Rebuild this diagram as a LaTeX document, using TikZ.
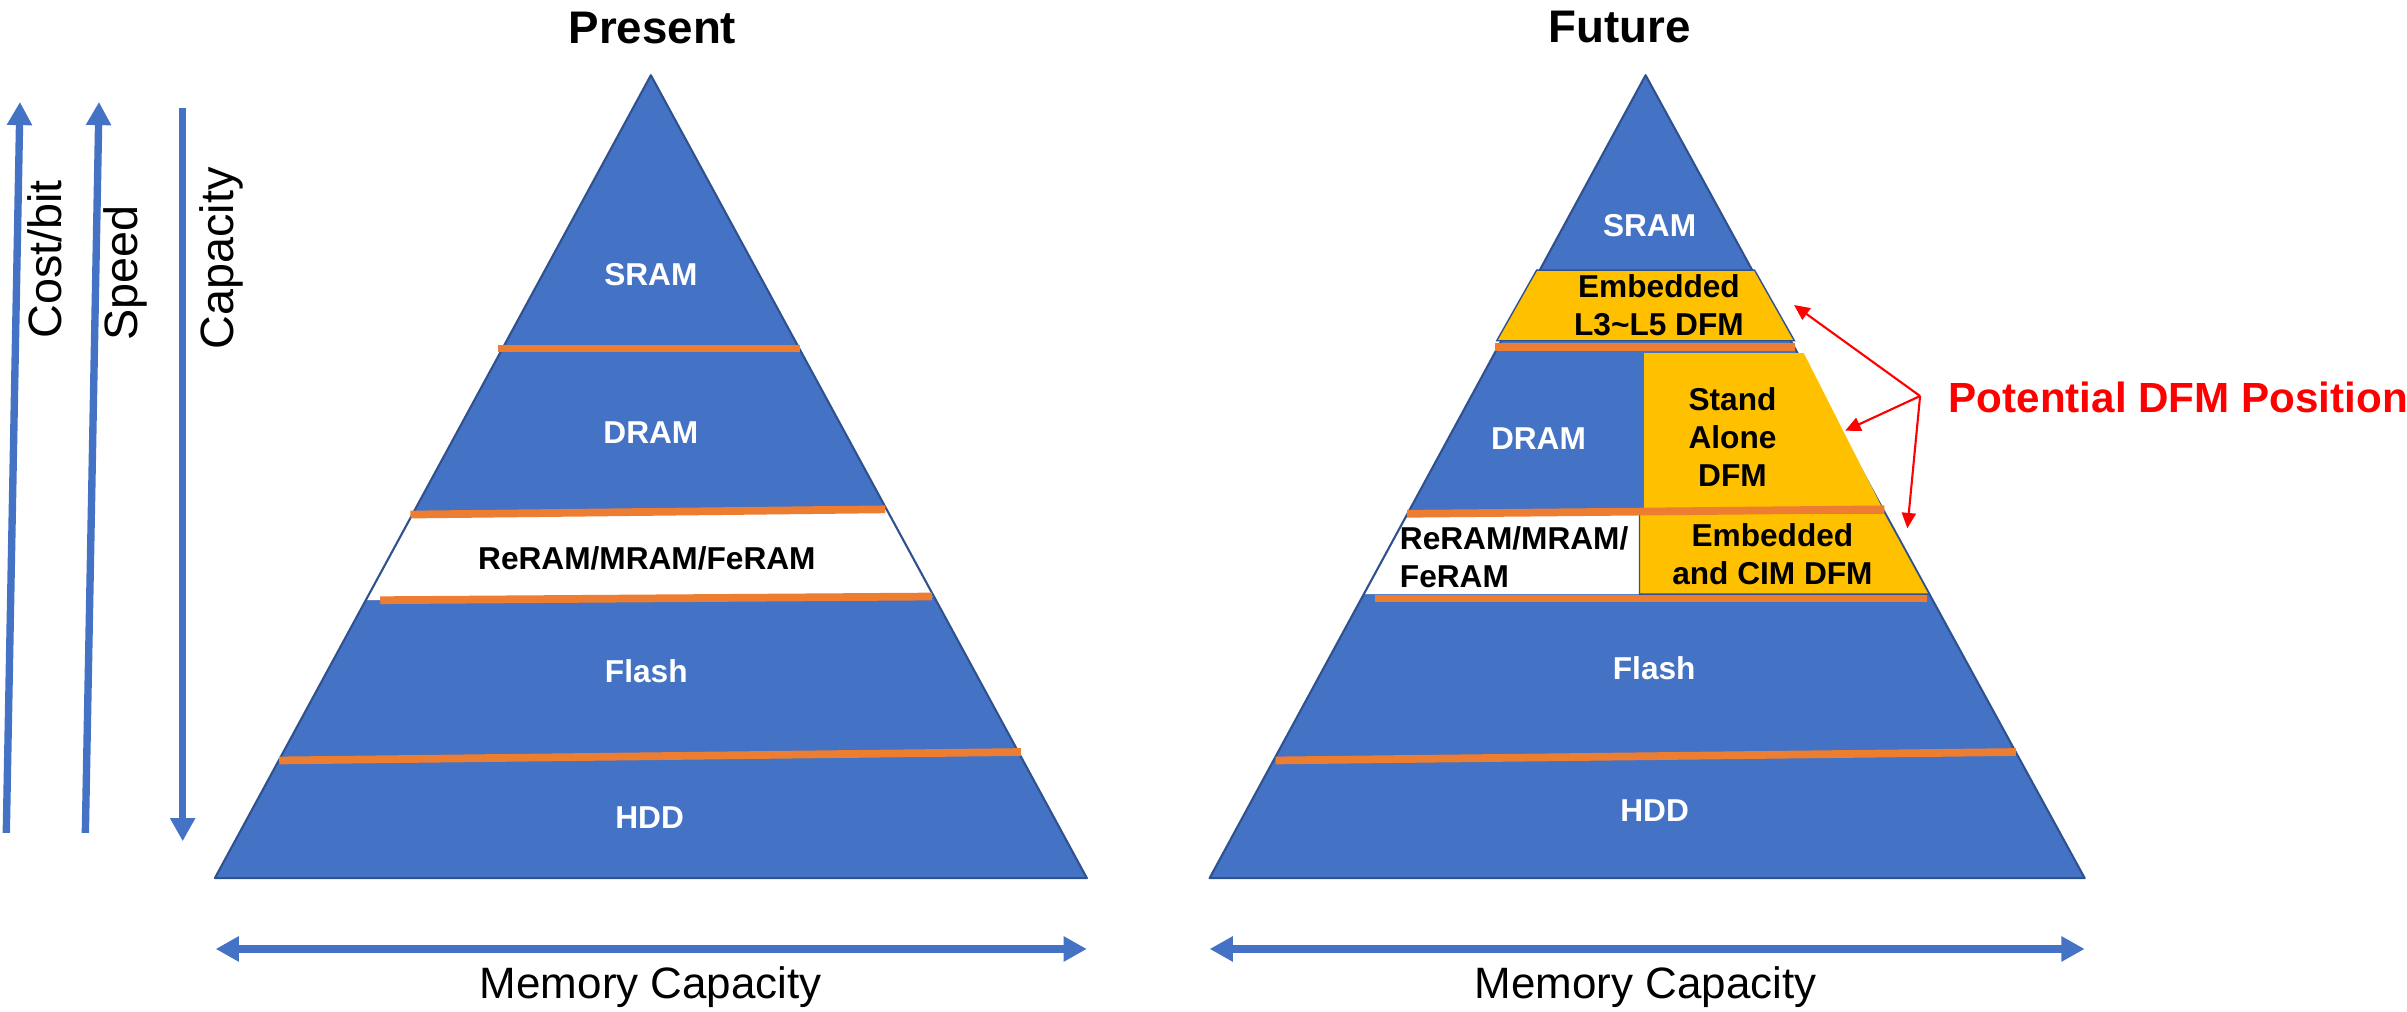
\documentclass[tikz,border=0pt]{standalone}
\usepackage{fontspec}
\setmainfont{Liberation Sans}
\usetikzlibrary{arrows.meta}

\definecolor{pyrblue}{HTML}{4472C4}
\definecolor{pyredge}{HTML}{2F528F}
\definecolor{tierline}{HTML}{ED7D31}
\definecolor{dfmgold}{HTML}{FFC000}

\begin{document}
\begin{tikzpicture}[x=1.535cm, y=-1.535cm, >={Triangle[length=6.6pt,width=6.8pt]},
    pyr/.style={draw=pyredge, line width=.6pt, line join=round},
    tier/.style={draw=tierline, line width=2.2pt},
    dfm/.style={fill=dfmgold, draw=pyredge, line width=.4pt},
    lbl/.style={font=\fontsize{9}{10.9}\selectfont\bfseries, text=white, inner sep=0pt},
    dark/.style={text=black},
    axisarrow/.style={draw=pyrblue, line width=2.1pt},
    axislbl/.style={font=\fontsize{13.3}{15}\selectfont, rotate=90, inner sep=0pt},
    headline/.style={font=\fontsize{13}{15}\selectfont\bfseries, anchor=base, inner sep=0pt},
    caplbl/.style={font=\fontsize{12.5}{15}\selectfont, anchor=base, inner sep=0pt},
    pointer/.style={-{Triangle[length=4.4pt,width=4pt]}, draw=red, line width=.6pt}]
  \useasboundingbox (0,0) rectangle (15.68,6.59);

  % axes on the left
  \coordinate (costlo) at (.041,5.426);  \coordinate (costhi) at (.13,.664);
  \coordinate (speedlo) at (.556,5.426); \coordinate (speedhi) at (.645,.664);
  \coordinate (caphi) at (1.19,.705);    \coordinate (caplo) at (1.19,5.48);
  \draw[axisarrow,->] (costlo) -- (costhi);
  \draw[axisarrow,->] (speedlo) -- (speedhi);
  \draw[axisarrow,->] (caphi) -- (caplo);
  \node[axislbl] (costlbl) at (.293,1.69) {Cost/bit};
  \node[axislbl] (speedlbl) at (.814,1.78) {Speed};
  \node[axislbl] (caplbl) at (1.444,1.684) {Capacity};

  % present
  \coordinate (lA) at (4.24,.49); \coordinate (lL) at (1.40,5.72); \coordinate (lR) at (7.08,5.72);
  \fill[pyrblue] (lA) -- (lL) -- (lR) -- cycle;
  \fill[white] (2.686,3.352) -- (5.776,3.318) -- (6.084,3.886) -- (2.383,3.91) -- cycle;
  \draw[pyr] (lA) -- (lL) -- (lR) -- cycle;
  \foreach \xa/\ya/\xb/\yb in {3.245/2.27/5.21/2.27, 2.674/3.352/5.768/3.318,
                               2.477/3.91/6.07/3.886, 1.819/4.954/6.65/4.899}
    \draw[tier] (\xa,\ya) -- (\xb,\yb);
  \node[headline] (present) at (4.25,.286) {Present};
  \node[lbl] (lsram) at (4.24,1.787) {SRAM};
  \node[lbl] (ldram) at (4.24,2.818) {DRAM};
  \node[lbl,dark] (lnvm) at (4.214,3.638) {ReRAM/MRAM/FeRAM};
  \node[lbl] (lflash) at (4.21,4.373) {Flash};
  \node[lbl] (lhdd) at (4.232,5.328) {HDD};

  % future
  \coordinate (rA) at (10.72,.49); \coordinate (rL) at (7.88,5.72); \coordinate (rR) at (13.58,5.72);
  \fill[pyrblue] (rA) -- (rL) -- (rR) -- cycle;
  \fill[white] (9.172,3.34) -- (10.68,3.34) -- (10.68,3.87) -- (8.885,3.87) -- cycle;
  \draw[pyr] (rA) -- (rL) -- (rR) -- cycle;
  \filldraw[dfm] (10.01,1.76) -- (11.43,1.76) -- (11.69,2.22) -- (9.75,2.22) -- cycle;
  \fill[dfmgold] (10.71,2.30) -- (11.75,2.30) -- (12.262,3.31) -- (10.71,3.31) -- cycle;
  \filldraw[dfm] (10.68,3.34) -- (12.278,3.34) -- (12.568,3.87) -- (10.68,3.87) -- cycle;
  \foreach \xa/\ya/\xb/\yb in {9.74/2.262/11.69/2.262, 9.166/3.347/12.275/3.318,
                               8.96/3.898/12.556/3.898, 8.31/4.954/13.132/4.899}
    \draw[tier] (\xa,\ya) -- (\xb,\yb);
  \node[headline] (future) at (10.55,.28) {Future};
  \node[lbl] (rsram) at (10.746,1.472) {SRAM};
  \node[lbl,dark,align=center] (l35dfm) at (10.807,1.99) {Embedded\\L3\textasciitilde L5 DFM};
  \node[lbl] (rdram) at (10.022,2.86) {DRAM};
  \node[lbl,dark,align=center] (standalone) at (11.286,2.847) {Stand\\Alone\\DFM};
  \node[lbl,dark,align=left,anchor=west] (rnvm) at (9.115,3.629) {ReRAM/MRAM/\\FeRAM};
  \node[lbl,dark,align=center] (cimdfm) at (11.546,3.612) {Embedded\\and CIM DFM};
  \node[lbl] (rflash) at (10.776,4.352) {Flash};
  \node[lbl] (rhdd) at (10.779,5.278) {HDD};

  % where DFM could go
  \node[font=\fontsize{12}{14}\selectfont\bfseries, text=red, anchor=base west, inner sep=0pt]
    (dfmpos) at (12.69,2.688) {Potential DFM Position};
  \coordinate (fork) at (12.508,2.58);
  \coordinate (tipA) at (11.687,1.987);
  \coordinate (tipB) at (12.02,2.806);
  \coordinate (tipC) at (12.425,3.442);
  \foreach \t in {tipA,tipB,tipC}
    \draw[pointer] (fork) -- (\t);

  % memory capacity
  \coordinate (lmin) at (1.405,6.182); \coordinate (lmax) at (7.08,6.182);
  \coordinate (rmin) at (7.88,6.182);  \coordinate (rmax) at (13.58,6.182);
  \draw[axisarrow,<->] (lmin) -- (lmax);
  \draw[axisarrow,<->] (rmin) -- (rmax);
  \node[caplbl] (lcap) at (4.24,6.502) {Memory Capacity};
  \node[caplbl] (rcap) at (10.72,6.502) {Memory Capacity};
\end{tikzpicture}
\end{document}
